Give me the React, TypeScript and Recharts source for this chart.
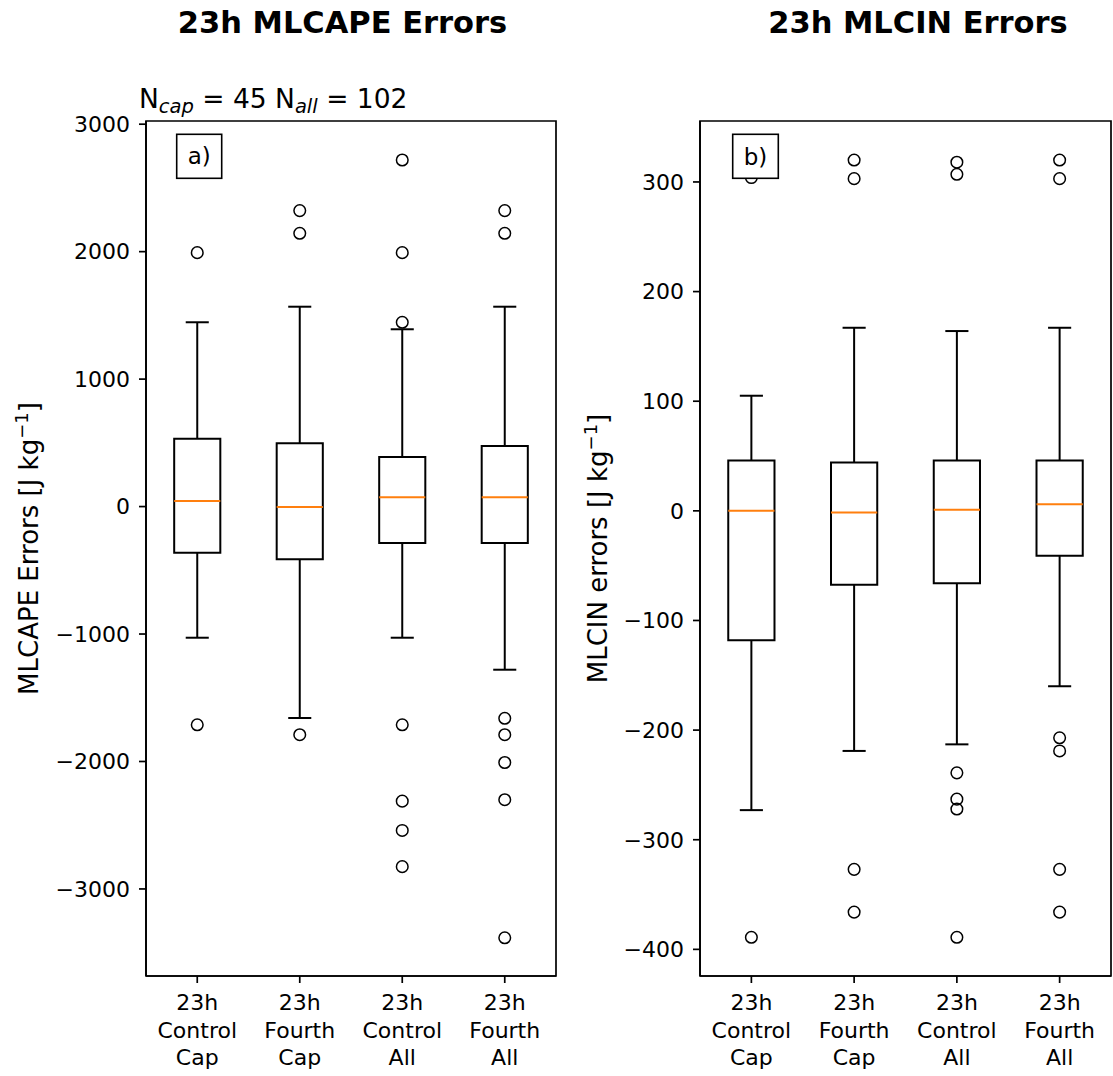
import React from "react";
import { ComposedChart, XAxis, YAxis, Scatter, ReferenceArea, ReferenceLine } from "recharts";

// ---------- data ----------
const positions = [1, 2, 3, 4];
const categoryLabels = ["23h\nControl\nCap", "23h\nFourth\nCap", "23h\nControl\nAll", "23h\nFourth\nAll"];
const xDomain = [0.5, 4.5];

// Panel a) MLCAPE errors
const capeQ1 = [-362, -413, -286, -286];
const capeMedian = [44, -3, 73, 73];
const capeQ3 = [533, 497, 389, 475];
const capeWhiskerLow = [-1029, -1659, -1029, -1280];
const capeWhiskerHigh = [1446, 1568, 1391, 1568];
const capeOutliers = [
  [1992, -1712],
  [2322, 2144, -1790],
  [2719, 1992, 1446, -1712, -2311, -2541, -2825],
  [2322, 2144, -1661, -1790, -2008, -2300, -3383],
];
const capeTicks = [-3000, -2000, -1000, 0, 1000, 2000, 3000];
const capeDomain = [-3683, 3025];

// Panel b) MLCIN errors
const cinQ1 = [-118, -67.5, -66, -41];
const cinMedian = [0, -1.5, 1, 6];
const cinQ3 = [46, 44, 46, 46];
const cinWhiskerLow = [-273, -219, -213, -160];
const cinWhiskerHigh = [105, 167, 164, 167];
const cinOutliers = [
  [304, -389],
  [320, 303, -327, -366],
  [318, 307, -239, -263, -272, -389],
  [320, 303, -207, -219, -327, -366],
];
const cinTicks = [-400, -300, -200, -100, 0, 100, 200, 300];
const cinDomain = [-424.3, 355.6];

// ---------- style ----------
const FONT = "'DejaVu Sans', 'Liberation Sans', sans-serif";
const BOX_HALF = 0.225;
const CAP_HALF = 0.1125;
const AXIS_LINE = { stroke: "#000", strokeWidth: 1.7 };
const TICK_LINE = { stroke: "#000", strokeWidth: 1.7 };
const MEDIAN_COLOR = "#ff7f0e";
const BOX_STROKE = 2;

const fmtMinus = (v: number) => String(v).replace("-", "\u2212");

function XTick(props: any) {
  const { x, y, payload } = props;
  const idx = positions.indexOf(payload.value);
  const lines = (categoryLabels[idx] || "").split("\n");
  return (
    <text textAnchor="middle" fontFamily={FONT} fontSize={22} fill="#000">
      {lines.map((l, i) => (
        <tspan key={i} x={x} y={y + 25 + i * 27.5}>
          {l}
        </tspan>
      ))}
    </text>
  );
}

const Circle = (props: any) => (
  <circle cx={props.cx} cy={props.cy} r={5.8} fill="none" stroke="#000" strokeWidth={1.5} />
);

function Panel(props: any) {
  const { left, width, yAxisWidth, marginRight, domain, yTicks, q1, med, q3, low, high, outliers } = props;
  const table = positions.map((p, i) => ({ x: p, q1: q1[i], med: med[i], q3: q3[i], low: low[i], high: high[i] }));
  const points = outliers.flatMap((vals: number[], i: number) => vals.map((v) => ({ x: positions[i], y: v })));
  return (
    <div style={{ position: "absolute", left, top: 0 }}>
      <ComposedChart width={width} height={1076} margin={{ top: 121, right: marginRight, bottom: 0, left: 0 }} data={table}>
        <XAxis
          dataKey="x"
          type="number"
          domain={xDomain}
          allowDataOverflow
          ticks={positions}
          interval={0}
          height={100}
          tickSize={7}
          tickMargin={2}
          tick={<XTick />}
          axisLine={AXIS_LINE}
          tickLine={TICK_LINE}
        />
        <YAxis
          dataKey="y"
          type="number"
          domain={domain}
          allowDataOverflow
          ticks={yTicks}
          interval={0}
          width={yAxisWidth}
          tickSize={7}
          tickMargin={9}
          tickFormatter={fmtMinus}
          tick={{ fontFamily: FONT, fontSize: 22, fill: "#000" }}
          axisLine={AXIS_LINE}
          tickLine={TICK_LINE}
        />
        <ReferenceArea
          x1={xDomain[0]}
          x2={xDomain[1]}
          y1={domain[0]}
          y2={domain[1]}
          fill="none"
          fillOpacity={0}
          stroke="#000"
          strokeWidth={1.7}
          strokeOpacity={1}
          ifOverflow="visible"
        />
        {table.map((b, i) => (
          <ReferenceLine
            key={"wu" + i}
            segment={[{ x: b.x, y: b.q3 }, { x: b.x, y: b.high }]}
            stroke="#000"
            strokeWidth={BOX_STROKE}
            ifOverflow="visible"
          />
        ))}
        {table.map((b, i) => (
          <ReferenceLine
            key={"wl" + i}
            segment={[{ x: b.x, y: b.q1 }, { x: b.x, y: b.low }]}
            stroke="#000"
            strokeWidth={BOX_STROKE}
            ifOverflow="visible"
          />
        ))}
        {table.map((b, i) => (
          <ReferenceLine
            key={"cu" + i}
            segment={[{ x: b.x - CAP_HALF, y: b.high }, { x: b.x + CAP_HALF, y: b.high }]}
            stroke="#000"
            strokeWidth={BOX_STROKE}
            ifOverflow="visible"
          />
        ))}
        {table.map((b, i) => (
          <ReferenceLine
            key={"cl" + i}
            segment={[{ x: b.x - CAP_HALF, y: b.low }, { x: b.x + CAP_HALF, y: b.low }]}
            stroke="#000"
            strokeWidth={BOX_STROKE}
            ifOverflow="visible"
          />
        ))}
        {table.map((b, i) => (
          <ReferenceArea
            key={"box" + i}
            x1={b.x - BOX_HALF}
            x2={b.x + BOX_HALF}
            y1={b.q1}
            y2={b.q3}
            fill="none"
            fillOpacity={0}
            stroke="#000"
            strokeWidth={BOX_STROKE}
            strokeOpacity={1}
            ifOverflow="visible"
          />
        ))}
        {table.map((b, i) => (
          <ReferenceLine
            key={"md" + i}
            segment={[{ x: b.x - BOX_HALF, y: b.med }, { x: b.x + BOX_HALF, y: b.med }]}
            stroke={MEDIAN_COLOR}
            strokeWidth={2}
            ifOverflow="visible"
          />
        ))}
        <Scatter data={points} dataKey="y" shape={Circle} isAnimationActive={false} />
      </ComposedChart>
    </div>
  );
}

export default function App() {
  return (
    <div style={{ position: "absolute", left: 0, top: 0, width: 1113, height: 1076, background: "#fff", overflow: "hidden" }}>
      <Panel
        left={0}
        width={570}
        yAxisWidth={146}
        marginRight={14}
        domain={capeDomain}
        yTicks={capeTicks}
        q1={capeQ1}
        med={capeMedian}
        q3={capeQ3}
        low={capeWhiskerLow}
        high={capeWhiskerHigh}
        outliers={capeOutliers}
      />
      <Panel
        left={560}
        width={553}
        yAxisWidth={140}
        marginRight={2}
        domain={cinDomain}
        yTicks={cinTicks}
        q1={cinQ1}
        med={cinMedian}
        q3={cinQ3}
        low={cinWhiskerLow}
        high={cinWhiskerHigh}
        outliers={cinOutliers}
      />
      <svg
        width={1113}
        height={1076}
        style={{ position: "absolute", left: 0, top: 0, pointerEvents: "none" }}
        fontFamily={FONT}
      >
        <text x={342.5} y={33} textAnchor="middle" fontSize={30.5} fontWeight="bold" fill="#000">
          23h MLCAPE Errors
        </text>
        <text x={918} y={33} textAnchor="middle" fontSize={30.5} fontWeight="bold" fill="#000">
          23h MLCIN Errors
        </text>
        <text x={139} y={108} fontSize={26.5} fill="#000" style={{ whiteSpace: "pre" }}>
          N
          <tspan fontSize={19.5} fontStyle="italic" dy={5}>
            cap
          </tspan>
          <tspan dy={-5}>{" = 45 N"}</tspan>
          <tspan fontSize={19.5} fontStyle="italic" dy={5}>
            all
          </tspan>
          <tspan dy={-5}>{" = 102"}</tspan>
        </text>
        <text
          transform="translate(38,548.5) rotate(-90)"
          textAnchor="middle"
          fontSize={26}
          fill="#000"
          style={{ whiteSpace: "pre" }}
        >
          {"MLCAPE Errors [J kg"}
          <tspan fontSize={18} dy={-10}>
            {"\u22121"}
          </tspan>
          <tspan dy={10}>]</tspan>
        </text>
        <text
          transform="translate(606.5,548.5) rotate(-90)"
          textAnchor="middle"
          fontSize={26}
          fill="#000"
          style={{ whiteSpace: "pre" }}
        >
          {"MLCIN errors [J kg"}
          <tspan fontSize={18} dy={-10}>
            {"\u22121"}
          </tspan>
          <tspan dy={10}>]</tspan>
        </text>
        <rect x={176.7} y={134.3} width={45} height={44} fill="#fff" stroke="#000" strokeWidth={1.6} />
        <text x={199.2} y={163.5} textAnchor="middle" fontSize={23} fill="#000">
          a)
        </text>
        <rect x={732.7} y={134.3} width={45.6} height={44} fill="#fff" stroke="#000" strokeWidth={1.6} />
        <text x={755.5} y={164.5} textAnchor="middle" fontSize={23} fill="#000">
          b)
        </text>
      </svg>
    </div>
  );
}
